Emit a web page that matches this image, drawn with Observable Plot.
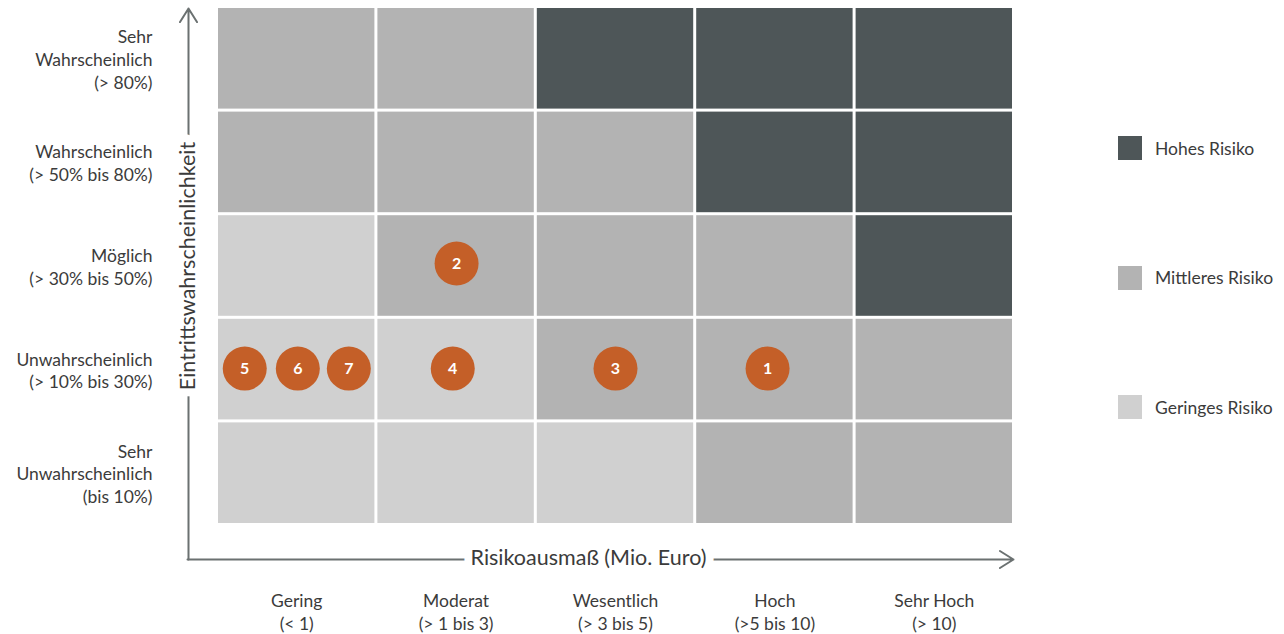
<!DOCTYPE html>
<html><head><meta charset="utf-8">
<script src="https://cdn.jsdelivr.net/npm/d3@7"></script>
<script src="https://cdn.jsdelivr.net/npm/@observablehq/plot@0.6"></script>
<style>
body{margin:0;background:#fff;font-family:Lato,"Open Sans",sans-serif;}
#wrap{position:relative;width:1284px;height:634px;}
#wrap svg{position:absolute;left:0;top:0;}
#legend{position:absolute;left:1118px;top:136px;}
.item{display:flex;align-items:center;height:24px;margin-bottom:105.5px;font-size:17.5px;color:#3b3b3b;white-space:nowrap}
.sw{width:24px;height:24px;margin-right:13px;flex:none}
</style></head><body><div id="wrap"><div id="legend"></div></div>
<script>
// Tick labels
const impact = ["Gering\n(< 1)", "Moderat\n(> 1 bis 3)", "Wesentlich\n(> 3 bis 5)", "Hoch\n(>5 bis 10)", "Sehr Hoch\n(> 10)"];
// bottom -> top
const likelihood = ["Sehr\nUnwahrscheinlich\n(bis 10%)", "Unwahrscheinlich\n(> 10% bis 30%)", "Möglich\n(> 30% bis 50%)", "Wahrscheinlich\n(> 50% bis 80%)", "Sehr\nWahrscheinlich\n(> 80%)"];
const levels = ["Hohes Risiko", "Mittleres Risiko", "Geringes Risiko"];
const levelColors = ["#4e5658", "#b3b3b3", "#d0d0d0"];
const levelCodes = ["H", "M", "G"];
// risk matrix: rows bottom -> top, cols left -> right
const matrix = [
  ["G","G","G","M","M"],
  ["G","G","M","M","M"],
  ["G","M","M","M","H"],
  ["M","M","M","H","H"],
  ["M","M","H","H","H"]
];
// risks (position in impact / likelihood units)
const riskIds = [1, 2, 3, 4, 5, 6, 7];
const riskImpact = [3.454, 1.503, 2.5, 1.479, 0.174, 0.507, 0.827];
const riskLikelihood = [1.51, 2.524, 1.51, 1.51, 1.51, 1.51, 1.51];
const xTitle = "Risikoausmaß (Mio. Euro)";
const yTitle = "Eintrittswahrscheinlichkeit";

const cells = [];
matrix.forEach((row, r) => row.forEach((code, c) => cells.push({c, r, level: levels[levelCodes.indexOf(code)]})));
const risks = riskIds.map((id, i) => ({id, x: riskImpact[i], y: riskLikelihood[i]}));

const textColor = "#3b3b3b";
const axisColor = "#6b7171";
const font = "Lato, 'Open Sans', sans-serif";

const chart = Plot.plot({
  width: 1090, height: 634,
  marginLeft: 216.5, marginRight: 76.5, marginTop: 6.5, marginBottom: 109.5,
  x: {domain: [0, 5], axis: null},
  y: {domain: [0, 5], axis: null},
  color: {domain: levels, range: levelColors},
  style: {fontFamily: font, overflow: "visible", background: "transparent"},
  marks: [
    Plot.rect(cells, {x1: d => d.c, x2: d => d.c + 1, y1: d => d.r, y2: d => d.r + 1, fill: "level", inset: 1.5}),
    Plot.arrow([0], {x1: () => 0, y1: () => 0, x2: () => 0, y2: () => 5, dx: -28.5, insetStart: -34.5, insetEnd: 1.5, stroke: axisColor, strokeWidth: 2, headLength: 12, headAngle: 64}),
    Plot.arrow([0], {x1: () => 0, y1: () => 0, x2: () => 5, y2: () => 0, dy: 34.5, insetStart: -29.5, insetEnd: 0.5, stroke: axisColor, strokeWidth: 2, headLength: 12, headAngle: 64}),
    Plot.text([xTitle], {x: () => 2.5, y: () => 0, dx: -27, dy: 33, text: d => d, fontSize: 21.5, fill: textColor, stroke: "white", strokeWidth: 16, paintOrder: "stroke"}),
    Plot.text([yTitle], {x: () => 0, y: () => 2.5, dx: -28.5, text: d => d, rotate: -90, fontSize: 21.5, fill: textColor, stroke: "white", strokeWidth: 16, paintOrder: "stroke"}),
    Plot.text(likelihood, {x: () => 0, y: (d, i) => i + 0.5, dx: -64.5, text: d => d, textAnchor: "end", lineHeight: 1.3, fontSize: 17.5, fill: textColor}),
    Plot.text(impact, {x: (d, i) => i + 0.5, y: () => 0, dy: 86.5, text: d => d, lineHeight: 1.28, fontSize: 17.5, fill: textColor}),
    Plot.dot(risks, {x: "x", y: "y", r: 22, fill: "#c45f28", stroke: "none"}),
    Plot.text(risks, {x: "x", y: "y", text: d => String(d.id), fill: "white", fontWeight: "bold", fontSize: 16})
  ]
});
document.getElementById("wrap").prepend(chart);

const legend = document.getElementById("legend");
levels.forEach((l, i) => {
  const item = document.createElement("div");
  item.className = "item";
  item.innerHTML = `<div class="sw" style="background:${levelColors[i]}"></div><span>${l}</span>`;
  legend.appendChild(item);
});
</script>
</body></html>
